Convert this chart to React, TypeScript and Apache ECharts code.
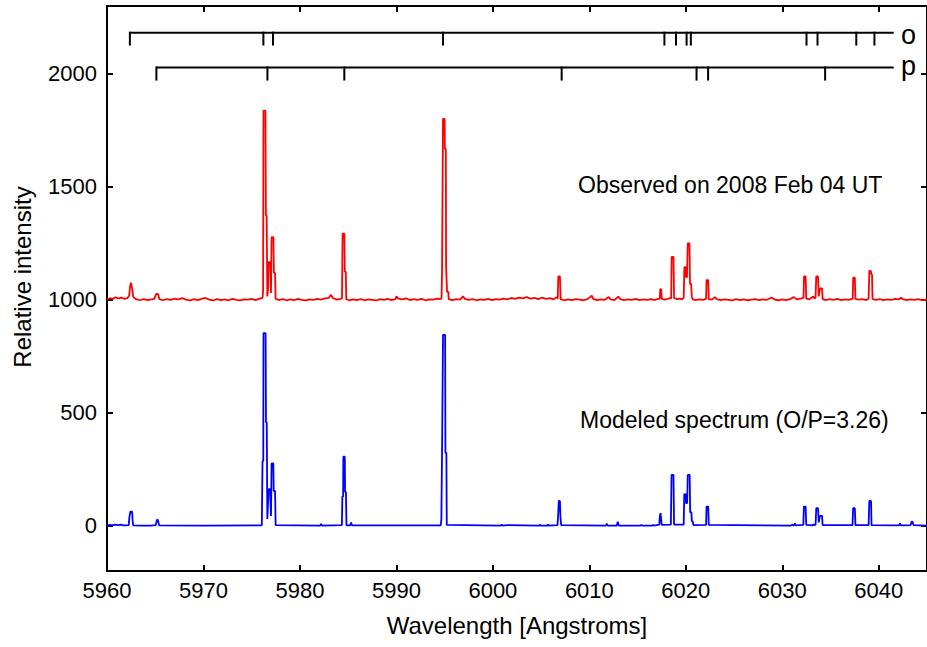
import React, { useEffect, useRef } from "react";
import * as echarts from "echarts";

// Observed spectrum (2008 Feb 04 UT), offset by +1000: [wavelength Å, relative intensity]
const observed: [number, number][] = [
  [5960.0, 1002], [5960.3, 1007], [5960.6, 1004], [5960.9, 1011], [5961.2, 1006], [5961.5, 1010], [5961.8, 1004], [5962.1, 1007],
  [5962.3, 1018], [5962.4, 1062], [5962.5, 1075], [5962.6, 1052], [5962.72, 1012],
  [5963.0, 1003], [5963.4, 998], [5963.8, 1003], [5964.2, 999], [5964.6, 1002], [5964.9, 1004],
  [5965.1, 1026], [5965.3, 1025], [5965.42, 1003],
  [5965.8, 998], [5966.2, 1003], [5966.6, 1000], [5967.0, 1005], [5967.4, 1002], [5967.8, 1007], [5968.2, 1001], [5968.6, 997],
  [5969.0, 1003], [5969.4, 999], [5969.8, 1004], [5970.2, 1008], [5970.6, 1001], [5971.0, 997], [5971.4, 1003], [5971.8, 999],
  [5972.2, 1002], [5972.6, 998], [5973.0, 1004], [5973.4, 1000], [5973.8, 997], [5974.2, 1002], [5974.6, 1001], [5975.0, 1004],
  [5975.4, 999], [5975.8, 1005],
  [5976.12, 1008], [5976.18, 1040], [5976.22, 1837], [5976.42, 1837], [5976.47, 1374], [5976.55, 1374], [5976.62, 1015],
  [5976.7, 1050], [5976.74, 1167], [5976.92, 1167], [5977.0, 1030], [5977.06, 1277], [5977.25, 1277], [5977.3, 1119],
  [5977.42, 1119], [5977.48, 1004],
  [5977.8, 999], [5978.2, 1003], [5978.6, 998], [5979.0, 1002], [5979.4, 999], [5979.8, 1004], [5980.2, 1000], [5980.6, 997],
  [5981.0, 1002], [5981.4, 1000], [5981.8, 1004], [5982.2, 1001], [5982.6, 1006], [5983.0, 1009], [5983.2, 1022], [5983.4, 1008],
  [5983.8, 1001], [5984.2, 1004],
  [5984.36, 1006], [5984.42, 1293], [5984.6, 1293], [5984.65, 1125], [5984.75, 1125], [5984.8, 1003],
  [5985.1, 998], [5985.5, 1002], [5985.9, 999], [5986.3, 1003], [5986.7, 998], [5987.1, 1002], [5987.5, 1000], [5987.9, 997],
  [5988.3, 1003], [5988.7, 1000], [5989.1, 1004], [5989.5, 999], [5989.9, 1003], [5990.0, 1015], [5990.2, 1005], [5990.6, 1002],
  [5991.0, 1006], [5991.4, 999], [5991.8, 1003], [5992.2, 1000], [5992.6, 1004], [5993.0, 998], [5993.4, 1002], [5993.8, 1001],
  [5994.2, 1005], [5994.5, 1003],
  [5994.68, 1006], [5994.73, 1132], [5994.8, 1132], [5994.83, 1800], [5995.0, 1800], [5995.02, 1668], [5995.12, 1668],
  [5995.15, 1145], [5995.22, 1145], [5995.25, 1035], [5995.38, 1035], [5995.42, 1003],
  [5995.8, 999], [5996.2, 1003], [5996.6, 1001], [5996.9, 1015], [5997.1, 1004], [5997.5, 1000], [5997.9, 1003], [5998.3, 998],
  [5998.7, 1002], [5999.1, 1000], [5999.5, 1004], [5999.9, 999], [6000.3, 1003], [6000.7, 1001], [6001.1, 1005], [6001.5, 1002],
  [6001.9, 1008], [6002.3, 1004], [6002.7, 1010], [6003.1, 1006], [6003.5, 1012], [6003.9, 1005], [6004.3, 1009], [6004.7, 1003],
  [6005.1, 1010], [6005.5, 1004], [6005.9, 1007], [6006.3, 1002], [6006.6, 1012],
  [6006.72, 1005], [6006.78, 1103], [6006.95, 1103], [6007.02, 1003],
  [6007.4, 998], [6007.8, 1002], [6008.2, 999], [6008.6, 1003], [6009.0, 1001], [6009.4, 998], [6009.8, 1003], [6010.25, 1018],
  [6010.4, 1004], [6010.8, 999], [6011.2, 1002], [6011.6, 1000], [6012.0, 1012], [6012.2, 1002], [6012.6, 999], [6013.0, 1014],
  [6013.2, 1003], [6013.6, 999], [6014.0, 1002], [6014.4, 1000], [6014.8, 1004], [6015.2, 999], [6015.6, 1002], [6016.0, 1000],
  [6016.4, 1003], [6016.8, 999], [6017.1, 1004],
  [6017.3, 1005], [6017.35, 1047], [6017.45, 1047], [6017.5, 1004], [6017.8, 1001], [6018.1, 1004], [6018.4, 1008],
  [6018.48, 1006], [6018.53, 1190], [6018.72, 1190], [6018.78, 1008], [6019.1, 1003], [6019.4, 1005], [6019.6, 1002],
  [6019.78, 1010], [6019.85, 1145], [6019.98, 1145], [6020.02, 1100], [6020.12, 1100], [6020.2, 1250], [6020.38, 1250],
  [6020.43, 1070], [6020.55, 1070], [6020.62, 1015], [6020.7, 1003],
  [6021.0, 999], [6021.4, 1002], [6021.8, 1000], [6022.1, 1004], [6022.15, 1087], [6022.32, 1087], [6022.38, 1003],
  [6022.7, 1001], [6023.0, 1012], [6023.2, 1003], [6023.6, 999], [6024.0, 1002], [6024.4, 1000], [6024.8, 997], [6025.2, 1003],
  [6025.6, 999], [6026.0, 1002], [6026.4, 998], [6026.8, 1001], [6027.2, 1003], [6027.6, 999], [6028.0, 1002], [6028.4, 1000],
  [6028.9, 1010], [6029.2, 1001], [6029.6, 998], [6030.0, 1002], [6030.4, 999], [6030.8, 1003], [6031.2, 1012], [6031.5, 1002],
  [6031.9, 1005],
  [6032.2, 1008], [6032.25, 1103], [6032.42, 1103], [6032.48, 1005], [6032.8, 1002], [6033.2, 1015], [6033.35, 1005],
  [6033.45, 1010], [6033.52, 1103], [6033.7, 1103], [6033.78, 1015], [6033.9, 1050], [6034.12, 1050], [6034.18, 1003],
  [6034.5, 999], [6034.9, 1003], [6035.3, 1000], [6035.7, 1004], [6036.1, 999], [6036.5, 1002], [6036.9, 1000], [6037.2, 1004],
  [6037.3, 1005], [6037.35, 1098], [6037.52, 1098], [6037.58, 1004], [6037.9, 1001], [6038.3, 1003], [6038.7, 999],
  [6038.95, 1005], [6039.02, 1128], [6039.18, 1128], [6039.22, 1113], [6039.3, 1113], [6039.35, 1004],
  [6039.7, 1000], [6040.1, 1003], [6040.5, 999], [6040.9, 1002], [6041.3, 1000], [6041.7, 1004], [6042.1, 1002], [6042.3, 1010],
  [6042.5, 1003], [6042.9, 999], [6043.3, 1002], [6043.7, 1000], [6044.1, 1003], [6044.5, 999], [6045.0, 1001],
];

// Modeled spectrum (O/P = 3.26): [wavelength Å, relative intensity]
const modeled: [number, number][] = [
  [5960.0, 1], [5960.3, 4], [5960.5, 2], [5960.8, 5], [5961.1, 3], [5961.4, 5], [5961.7, 2], [5962.0, 2],
  [5962.25, 3], [5962.32, 38], [5962.42, 63], [5962.6, 63], [5962.65, 25], [5962.72, 2],
  [5963.5, 1], [5964.5, 1], [5965.05, 3], [5965.15, 22], [5965.22, 29], [5965.3, 22], [5965.4, 2],
  [5970.0, 1], [5976.05, 2],
  [5976.12, 286], [5976.2, 286], [5976.22, 852], [5976.44, 852], [5976.48, 458], [5976.56, 458], [5976.62, 30],
  [5976.68, 88], [5976.74, 162], [5976.9, 162], [5977.0, 43], [5977.06, 276], [5977.24, 276], [5977.28, 154],
  [5977.42, 154], [5977.48, 3],
  [5982.1, 1], [5982.2, 8], [5982.3, 1],
  [5984.35, 3], [5984.4, 130], [5984.48, 130], [5984.5, 306], [5984.65, 306], [5984.68, 150], [5984.77, 150],
  [5984.82, 2], [5985.2, 2], [5985.3, 14], [5985.4, 2],
  [5994.6, 2], [5994.66, 30], [5994.72, 30], [5994.75, 418], [5994.8, 418], [5994.83, 845], [5995.05, 845],
  [5995.08, 323], [5995.18, 323], [5995.22, 4],
  [6000.8, 1], [6000.9, 5], [6001.0, 1], [6001.5, 3],
  [6004.8, 1], [6004.86, 5], [6004.95, 1], [6005.65, 1], [6005.72, 6], [6005.8, 1],
  [6006.7, 3], [6006.78, 60], [6006.83, 110], [6006.95, 110], [6007.0, 40], [6007.08, 3],
  [6011.7, 1], [6011.8, 9], [6011.9, 1], [6012.85, 1], [6012.94, 18], [6013.05, 1],
  [6015.3, 1], [6015.4, 4], [6015.5, 1], [6016.5, 1], [6016.6, 4], [6016.7, 1],
  [6017.25, 5], [6017.3, 40], [6017.38, 56], [6017.45, 56], [6017.5, 4],
  [6018.45, 5], [6018.52, 225], [6018.72, 225], [6018.78, 5],
  [6019.78, 5], [6019.84, 140], [6019.98, 140], [6020.02, 100], [6020.14, 100], [6020.2, 225], [6020.4, 225],
  [6020.45, 60], [6020.58, 60], [6020.62, 20], [6020.72, 20], [6020.78, 3],
  [6022.1, 4], [6022.15, 85], [6022.32, 85], [6022.38, 4],
  [6030.9, 1], [6031.0, 4], [6031.2, 2], [6031.3, 10], [6031.4, 2],
  [6032.18, 4], [6032.24, 85], [6032.42, 85], [6032.48, 4], [6033.1, 2], [6033.2, 6], [6033.3, 3],
  [6033.45, 5], [6033.52, 78], [6033.7, 78], [6033.78, 15], [6033.9, 44], [6034.12, 44], [6034.18, 3],
  [6037.28, 3], [6037.34, 78], [6037.52, 78], [6037.58, 3],
  [6038.95, 3], [6039.02, 110], [6039.2, 110], [6039.25, 3],
  [6042.1, 2], [6042.2, 10], [6042.3, 2], [6043.3, 3], [6043.4, 18], [6043.5, 18], [6043.6, 3], [6045.0, 1],
];

// Line identifications (wavelengths of bracket ticks)
const orthoLines = [5962.37, 5976.21, 5977.21, 5994.83, 6017.78, 6018.98, 6020.08, 6020.52, 6032.51, 6033.65, 6037.67, 6039.55];
const paraLines = [5965.12, 5976.63, 5984.6, 6007.13, 6021.11, 6022.31, 6034.44];
const bracketEnd = 6041.55;
// bracket levels in data units: [line level, tick bottom]
const orthoLevel = [2182, 2125];
const paraLevel = [2028, 1970];

const yTickValues = [0, 500, 1000, 1500, 2000];

const FONT = "'Liberation Sans', Arial, Helvetica, sans-serif";

export default function App() {
  const ref = useRef<HTMLDivElement>(null);

  useEffect(() => {
    document.body.style.margin = "0";
    if (!ref.current) return;
    const chart = echarts.init(ref.current, undefined, { renderer: "svg" });

    const axisLine = { show: true, onZero: false, lineStyle: { color: "#000", width: 2 } };
    const tickStyle = { color: "#000", width: 2 };
    const plain = (v: number) => String(v);

    const bracketSeries = (lines: number[], level: number[], name: string) => [
      {
        name: name + "-bar",
        type: "line",
        data: [[lines[0], level[0]], [bracketEnd, level[0]]],
        showSymbol: false,
        lineStyle: { color: "#000", width: 2 },
        silent: true,
        z: 3,
      },
      {
        name: name + "-ticks",
        type: "custom",
        data: lines.map((w) => [w, level[0], level[1]]),
        renderItem: (_p: any, api: any) => {
          const a = api.coord([api.value(0), api.value(1)]);
          const b = api.coord([api.value(0), api.value(2)]);
          return {
            type: "line",
            shape: { x1: a[0], y1: a[1] - 1, x2: b[0], y2: b[1] },
            style: { stroke: "#000", lineWidth: 2 },
          };
        },
        silent: true,
        z: 3,
      },
    ];

    chart.setOption({
      animation: false,
      backgroundColor: "#fff",
      grid: { left: 107, top: 6, width: 825, height: 565, containLabel: false },
      xAxis: [
        {
          type: "value",
          min: 5960,
          max: 6045,
          interval: 10,
          position: "bottom",
          axisLine,
          axisTick: { inside: true, length: 6, lineStyle: tickStyle },
          axisLabel: { color: "#000", fontSize: 22, fontFamily: FONT, margin: 8, showMaxLabel: false, formatter: plain },
          splitLine: { show: false },
          name: "Wavelength [Angstroms]",
          nameLocation: "middle",
          nameGap: 42,
          nameTextStyle: { color: "#000", fontSize: 24, fontFamily: FONT },
        },
        {
          type: "value",
          min: 5960,
          max: 6045,
          interval: 10,
          position: "top",
          axisLine,
          axisTick: { inside: true, length: 6, lineStyle: tickStyle },
          axisLabel: { show: false },
          splitLine: { show: false },
        },
      ],
      yAxis: [
        {
          type: "value",
          min: -200,
          max: 2300,
          position: "left",
          axisLine,
          axisTick: { inside: true, length: 6, lineStyle: tickStyle, customValues: yTickValues },
          axisLabel: { color: "#000", fontSize: 22, fontFamily: FONT, margin: 10, customValues: yTickValues, formatter: plain },
          splitLine: { show: false },
        },
        {
          type: "value",
          min: -200,
          max: 2300,
          position: "right",
          axisLine,
          axisTick: { inside: true, length: 6, lineStyle: tickStyle, customValues: yTickValues },
          axisLabel: { show: false },
          splitLine: { show: false },
        },
      ],
      graphic: [
        {
          type: "text",
          x: 22,
          y: 277,
          rotation: Math.PI / 2,
          style: { text: "Relative intensity", fill: "#000", font: `24px ${FONT}`, align: "center", verticalAlign: "middle" },
        },
        {
          type: "text",
          x: 578,
          y: 185,
          style: { text: "Observed on 2008 Feb 04 UT", fill: "#000", font: `23px ${FONT}`, align: "left", verticalAlign: "middle" },
        },
        {
          type: "text",
          x: 580,
          y: 420,
          style: { text: "Modeled spectrum (O/P=3.26)", fill: "#000", font: `23px ${FONT}`, align: "left", verticalAlign: "middle" },
        },
        {
          type: "text",
          x: 901,
          y: 35,
          style: { text: "o", fill: "#000", font: `27px ${FONT}`, align: "left", verticalAlign: "middle" },
        },
        {
          type: "text",
          x: 901,
          y: 66,
          style: { text: "p", fill: "#000", font: `27px ${FONT}`, align: "left", verticalAlign: "middle" },
        },
      ],
      series: [
        {
          name: "Observed",
          type: "line",
          data: observed,
          showSymbol: false,
          lineStyle: { color: "#ff0000", width: 1.8 },
          itemStyle: { color: "#ff0000" },
          z: 2,
        },
        {
          name: "Modeled",
          type: "line",
          data: modeled,
          showSymbol: false,
          lineStyle: { color: "#0000ff", width: 1.8 },
          itemStyle: { color: "#0000ff" },
          z: 2,
        },
        ...bracketSeries(orthoLines, orthoLevel, "ortho"),
        ...bracketSeries(paraLines, paraLevel, "para"),
      ],
    });

    return () => chart.dispose();
  }, []);

  return <div ref={ref} style={{ width: 927, height: 647 }} />;
}
